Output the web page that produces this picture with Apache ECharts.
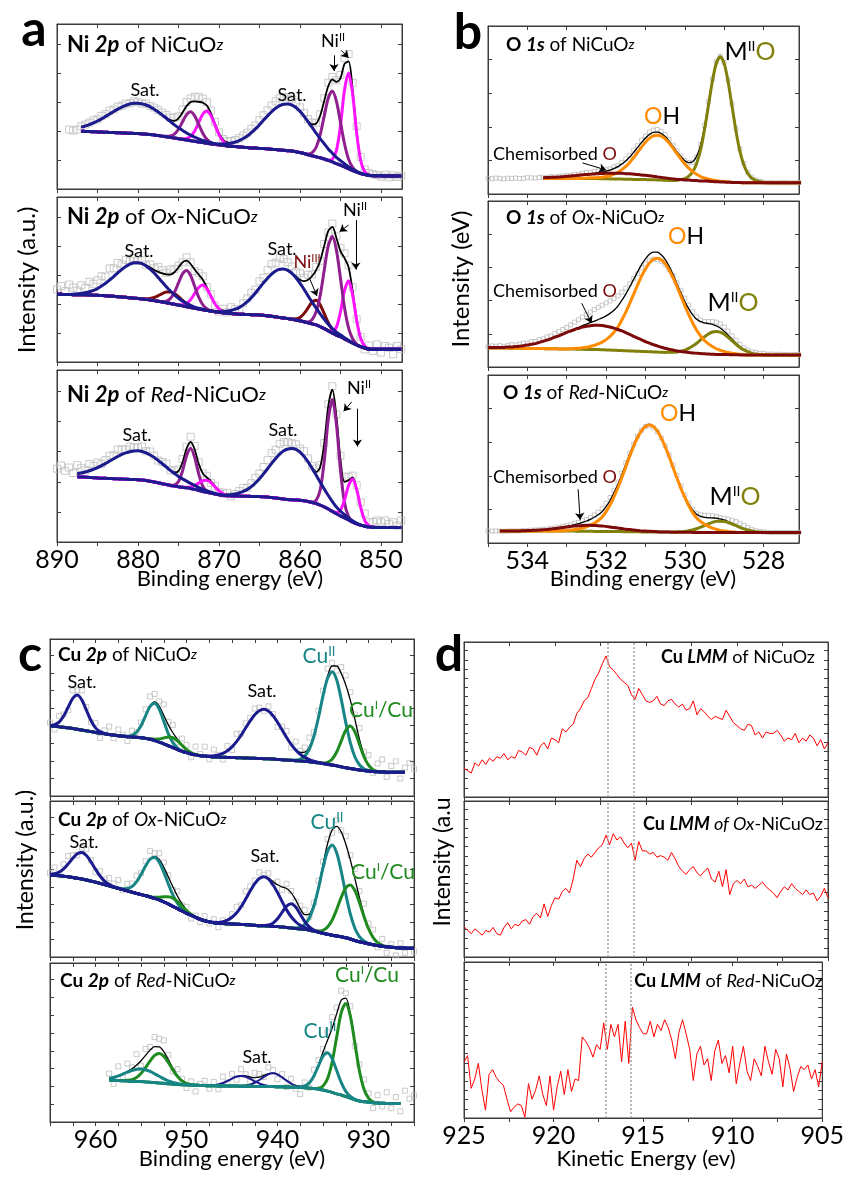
<!DOCTYPE html>
<html><head><meta charset="utf-8">
<script src="https://cdn.jsdelivr.net/npm/echarts/dist/echarts.min.js"></script>
<style>html,body{margin:0;padding:0;background:#fff}#c{width:847px;height:1179px}</style>
</head><body><div id="c"></div>
<script>
// ======================= DATA =======================
// Panel a : Ni 2p, binding-energy grid 890 -> 847.5 eV, step 0.5 eV
const NI_START = 890, NI_STEP = 0.5;
const a1_bg = [35.4,35.3,35.2,35.2,35.1,35.0,35.0,34.9,34.8,34.7,34.6,34.5,34.4,34.3,34.2,34.1,34.0,33.9,33.8,33.7,33.6,
33.4,33.2,33.0,32.7,32.4,32.0,31.7,31.3,30.9,30.5,30.1,29.7,29.3,28.9,28.5,28.1,27.7,27.3,27.0,26.7,
26.4,26.1,25.9,25.7,25.5,25.3,25.1,24.9,24.8,24.6,24.5,24.3,24.1,23.9,23.7,23.5,23.2,23.0,22.6,22.1,
21.5,20.7,20.1,19.5,18.9,18.2,17.3,16.4,15.4,14.5,13.4,12.3,11.2,10.2,9.3,8.7,8.3,8.1,8.0,8.0,
7.9,7.9,7.9,7.9,7.9];
const a1_resid = [null,null,null,0.8,0.3,1.0,0.5,0.9,1.2,1.5,1.0,1.8,1.4,2.0,1.2,1.5,0.8,1.0,0.5,1.2,0.6,
0.2,0.8,0.5,1.0,1.2,1.6,1.8,1.5,2.0,1.2,1.8,2.5,2.2,2.8,3.0,2.5,2.0,1.5,0.8,0.5,
0.3,0.8,1.0,1.2,1.5,1.8,2.0,2.5,2.2,2.8,3.0,3.4,3.8,4.2,4.5,4.4,4.0,3.5,3.0,2.4,
1.8,1.2,1.0,0.5,0.8,1.5,2.0,1.5,1.0,2.0,3.5,4.5,4.0,3.0,2.0,1.5,1.2,0.8,0.5,-0.5,
0.8,-0.8,0.4,-0.6,0.2];
// peaks: [first energy on grid, values going to lower binding energy]
const a1_sat880 = [887, [2.5,3.3,4.2,5.4,6.6,8.0,9.6,11.2,12.8,14.3,15.6,16.8,17.7,18.2,18.4,18.2,17.7,16.8,15.6,14.3,12.8,11.2,9.6,8.0,6.6,5.4,4.2,3.3,2.5,1.9,1.3,1.0,0.7,0.5,0.3,0.2]];
const a1_p873 = [876.5, [0.2,0.8,2.4,5.7,10.6,15.4,17.5,15.4,10.6,5.7,2.4,0.8,0.2]];
const a1_m871 = [874.5, [0.2,0.9,2.6,6.3,11.8,17.2,19.5,17.2,11.8,6.3,2.6,0.9,0.2]];
const a1_sat861 = [870.5, [0.3,0.5,0.8,1.2,1.9,2.7,3.8,5.3,7.0,9.2,11.6,14.3,17.2,20.0,22.7,25.0,26.8,27.9,28.3,27.9,26.8,25.0,22.7,20.0,17.2,14.3,11.6,9.2,7.0,5.3,3.8,2.7,1.9,1.2,0.8,0.5,0.3]];
const a1_p856 = [859, [0.5,1.9,5.8,14.0,26.1,37.9,43,37.9,26.1,14.0,5.8,1.9,0.5]];
const a1_m854 = [856.5, [0.2,1.7,7.8,23.8,46.5,58,46.5,23.8,7.8,1.7,0.2]];

const a2_bg = [41.0,41.0,40.9,40.9,40.8,40.8,40.7,40.7,40.6,40.5,40.4,40.3,40.2,40.0,39.8,39.6,39.4,39.2,39.0,38.7,38.5,
38.2,37.9,37.6,37.2,36.8,36.4,35.9,35.5,35.0,34.5,34.0,33.5,33.0,32.5,32.1,31.7,31.3,30.9,30.5,30.1,
29.8,29.6,29.4,29.2,29.0,28.9,28.8,28.7,28.6,28.5,28.3,28.0,27.7,27.4,27.0,26.7,26.3,25.9,25.5,25.0,
24.4,23.7,23.1,22.5,21.4,20.2,18.9,17.5,16.2,15.3,14.0,12.8,11.5,10.3,9.3,8.5,7.9,7.7,7.7,7.7,
7.7,7.7,7.7,7.7,7.7];
const a2_resid = [3,5,2,6,4,2,5,3,6,4, 5,6,4,7,5,6,3,4,2,3, 1,2,0,2,1,3,2,1,3,2, 1,0,2,1,-1,1,2,0,1,-1,
-2,1,-1,2,0,-2,1,2,3,2, 4,3,5,6,5,7,6,5,4,3, 4,2,3,1,2,0,1,-1,2,1, 2,3,1,2,0,1,-2,2,-1,3, -2,2,1,-3,2,0];
const a2_sat880 = [888, [0.3,0.5,0.8,1.3,2.0,2.9,4.1,5.7,7.5,9.7,12.0,14.4,16.7,18.7,20.3,21.4,21.7,21.4,20.3,18.7,16.7,14.4,12.0,9.7,7.5,5.7,4.1,2.9,2.0,1.3,0.8,0.5,0.3]];
const a2_ox876 = [879.5, [0.1,0.4,0.9,1.9,3.4,5.1,6.5,7,6.5,5.1,3.4,1.9,0.9,0.4,0.1]];
const a2_p874 = [877, [0.2,1.0,3.0,7.2,13.4,19.4,22,19.4,13.4,7.2,3.0,1.0,0.2]];
const a2_m872 = [875, [0.2,0.7,2.0,4.8,9.0,13.1,14.9,13.1,9.0,4.8,2.0,0.7,0.2]];
const a2_sat862 = [870, [0.4,0.7,1.2,1.8,2.8,4.0,5.7,7.8,10.3,13.2,16.4,19.7,22.8,25.6,27.8,29.2,29.7,29.2,27.8,25.6,22.8,19.7,16.4,13.2,10.3,7.8,5.7,4.0,2.8,1.8,1.2,0.7,0.4]];
const a2_ni3 = [861, [0.2,0.7,2.0,4.9,9.1,13.2,15,13.2,9.1,4.9,2.0,0.7,0.2]];
const a2_p856 = [859, [0.6,2.6,7.9,19.0,35.5,51.6,58.5,51.6,35.5,19.0,7.9,2.6,0.6]];
const a2_m854 = [856.5, [0.1,1.1,4.9,15.0,29.2,36.5,29.2,15.0,4.9,1.1,0.1]];

const a3_bg = [38.6,38.5,38.4,38.3,38.1,38.0,37.8,37.7,37.5,37.4,37.2,37.1,37.0,36.9,36.8,36.7,36.6,36.5,36.4,36.3,36.2,
36.0,35.7,35.3,34.9,34.4,33.9,33.4,32.9,32.5,32.1,31.8,31.5,31.1,30.6,30.0,29.4,28.9,28.4,27.9,27.4,
27.1,26.9,26.8,26.7,26.7,26.6,26.6,26.5,26.5,26.4,26.3,26.1,25.9,25.6,25.3,25.0,24.7,24.5,24.4,24.3,
24.0,23.6,23.0,22.3,21.5,20.4,19.2,17.8,16.4,15.2,14.0,12.8,11.6,10.6,9.8,9.2,8.8,8.6,8.5,8.5,
8.5,8.5,8.5,8.5,8.5];
const a3_resid = [4,6,3,5,2,5,3,1,4,2, 3,1,2,3,2,4,3,2,3,2, 2,3,1,2,1,0,1,2,0,1, 1,2,1,3,2,1,0,1,-1,0,
-1,0,1,-1,0,1,2,1,2,3, 3,4,5,6,5,6,5,4,3,3, 2,3,2,1,2,1,0,1,2,1, 2,3,2,1,2,3,4,2,3,4, 3,4,2,3,1,4];
const a3_sat880 = [887.5, [1.7,2.3,3.0,3.9,4.9,6.0,7.3,8.7,10.2,11.6,13.0,14.3,15.3,16.1,16.6,16.8,16.6,16.1,15.3,14.3,13.0,11.6,10.2,8.7,7.3,6.0,4.9,3.9,3.0,2.3,1.7,1.2,0.9,0.6,0.4,0.3,0.2]];
const a3_p873 = [876, [0.1,0.7,3.1,9.5,18.6,23.2,18.6,9.5,3.1,0.7,0.1]];
const a3_m871 = [874.5, [0.1,0.3,0.9,2.3,4.2,6.2,7,6.2,4.2,2.3,0.9,0.3,0.1]];
const a3_sat861 = [869, [0.4,0.7,1.2,1.9,2.8,4.0,5.7,7.8,10.4,13.3,16.5,19.8,23.0,25.8,28.0,29.4,29.9,29.4,28.0,25.8,23.0,19.8,16.5,13.3,10.4,7.8,5.7,4.0,2.8,1.9,1.2,0.7,0.4]];
const a3_p856 = [858.5, [0.3,1.9,8.8,26.7,52.1,65,52.1,26.7,8.8,1.9,0.3]];
const a3_m853 = [856, [0.1,0.7,3.4,10.3,20.0,25,20.0,10.3,3.4,0.7,0.1]];

// Panel b : O 1s, grid 535.0 -> 527.0 eV, step 0.1 eV
const O_START = 535, O_STEP = 0.1;
const b1_bg = [9.3,9.3,9.3,9.3,9.3,9.3,9.3,9.3,9.3,9.3,9.3,9.3,9.3,9.3,9.3,9.3,9.3,9.3,9.3,9.3,9.3,9.3,9.3,9.3,9.3,9.3,
9.3,9.2,9.2,9.1,9.1,9.0,9.0,8.9,8.9,8.8, 8.8,8.7,8.7,8.6,8.6,8.5,8.5,8.4,8.3,8.2,
8.1,8.0,7.9,7.9,7.8,7.8,7.7,7.7,7.6,7.6, 7.5,7.4,7.3,7.2,7.1,7.0,6.9,6.8,6.8,6.7,
6.7,6.7,6.7,6.7,6.7,6.7,6.7,6.7,6.7,6.7,6.7,6.7,6.7,6.7,6.7];
const b1_resid = [0,-0.2,0.2,0,-0.3,0.1,0,0.2,-0.1,0, 0.3,0.1,0,0.2,0.3,0.1,0.4,0.2,0.5,0.3,
0.6,0.4,0.8,0.5,0.9,1.0,0.8,1.2,1.0,0.9, 1.1,0.8,1.0,0.7,0.9,1.2,1.0,1.3,1.1,1.4,
1.2,1.5,1.3,1.6,1.4,1.2,1.0,0.8,0.6,0.4, 0.2,0,-0.3,-0.5,0.2,0.6,1.0,0.5,0.3,0,
0.4,0.9,1.4,1.6,1.3,1.0,0.7,0.5,0.3,0.2, 0.1,0,0.1,-0.1,0,0.1,0,-0.1,0,0.1, 0];
const b1_chem = [534.0, [0.1,0.2,0.2,0.3,0.4,0.5,0.6,0.7,0.8,1.0,1.2,1.4,1.6,1.8,2.1,2.3,2.5,2.7,2.9,3.1,3.2,3.3,3.4,3.4,3.4,3.3,3.2,3.1,2.9,2.7,2.5,2.3,2.1,1.8,1.6,1.4,1.2,1.0,0.8,0.7,0.6,0.5,0.4,0.3,0.2,0.2,0.1]];
const b1_oh = [532.6, [0.1,0.2,0.3,0.4,0.6,0.9,1.3,1.9,2.8,4.0,5.6,7.6,10.0,13.0,16.1,19.3,22.2,24.6,26.1,26.6,26.1,24.6,22.2,19.3,16.1,13.0,10.0,7.6,5.6,4.0,2.8,1.9,1.3,0.9,0.6,0.4,0.3,0.2,0.1]];
const b1_mo = [530.2, [0.3,0.7,1.4,2.8,5.5,10.5,18.6,30.6,45.2,59.7,70.5,74.5,70.5,59.7,45.2,30.6,18.6,10.5,5.5,2.8,1.4,0.7,0.3]];

const b2_bg = [11.5,11.5,11.5,11.4,11.4,11.4,11.3,11.3,11.3,11.2,11.2,11.2,11.1,11.1,11.1,11.0,11.0,11.0,10.9,10.9,10.9,
10.8,10.8,10.7,10.7,10.6,10.6,10.5,10.5,10.4,10.3,10.2,10.1,10.0,9.9,9.8,9.7,9.6,9.5,9.4,9.3,
9.2,9.1,9.0,8.9,8.8,8.7,8.6,8.5,8.4,8.3,8.2,8.1,8.0,7.9,7.8,7.7,7.7,7.6,7.6,7.5,
7.5,7.4,7.4,7.3,7.3,7.3,7.2,7.2,7.2,7.2,7.2,7.2,7.2,7.2,7.2,7.2,7.2,7.2,7.2,7.2];
const b2_resid = [0.5,1.0,0.8,1.2,0.6,1.0,1.4,0.9,1.2,1.5, 1.1,1.6,1.3,1.8,1.5,2.0,1.7,2.2,2.5,2.8,
3.0,3.5,4.0,4.6,5.2,5.8,6.4,7.0,7.4,7.6, 7.8,7.5,7.0,6.2,5.0,3.5,2.0,0.5,-1.0,-2.0,
-3.0,-3.8,-4.2,-4.5,-4.0,-3.2,-2.0,-0.8,0.5,1.4, 2.0,2.3,2.1,1.6,1.0,0.8,1.2,1.8,2.2,2.5,
2.6,2.4,2.1,1.8,1.4,1.2,1.0,0.8,0.9,0.7, 0.8,0.5,0.6,0.4,0.5,0.3,0.4,0.2,0.3,0.2, 0.3];
const b2_chem = [535.0, [0.1,0.2,0.2,0.3,0.4,0.6,0.7,1.0,1.2,1.6,2.0,2.5,3.0,3.7,4.4,5.2,6.0,7.0,7.9,8.9,9.9,10.9,11.8,12.6,13.3,13.9,14.3,14.6,14.7,14.6,14.3,13.9,13.3,12.6,11.8,10.9,9.9,8.9,7.9,7.0,6.0,5.2,4.4,3.7,3.0,2.5,2.0,1.6,1.2,1.0,0.7,0.6,0.4,0.3,0.2,0.2,0.1]];
const b2_oh = [532.9, [0.2,0.4,0.6,0.9,1.3,1.8,2.5,3.4,4.6,6.2,8.2,10.8,14.1,18.4,23.2,28.6,34.3,39.9,45.3,49.8,53.5,55.7,56.5,55.7,53.5,49.8,45.3,39.9,34.3,28.6,23.2,18.4,14.1,10.8,8.2,6.2,4.6,3.4,2.5,1.8,1.3,0.9,0.6,0.4,0.2]];
const b2_mo = [530.4, [0.2,0.3,0.6,1.1,1.9,3.0,4.5,6.3,8.4,10.4,12.2,13.4,13.8,13.4,12.2,10.4,8.4,6.3,4.5,3.0,1.9,1.1,0.6,0.3,0.2]];

const b3_bg = [7.1,7.1,7.1,7.1,7.1,7.1,7.1,7.1,7.1,7.1,7.1,7.1,7.1,7.1,7.1,7.1,7.1,7.1,7.1,7.1,7.1,
7.1,7.1,7.0,7.0,7.0,7.0,6.9,6.9,6.9,6.9,6.8,6.8,6.8,6.8,6.7,6.7,6.7,6.7,6.6,6.6,
6.6,6.6,6.5,6.5,6.5,6.5,6.4,6.4,6.4,6.4,6.4,6.3,6.3,6.3,6.3,6.3,6.3,6.3,6.2,6.2,
6.2,6.2,6.2,6.2,6.2,6.2,6.2,6.2,6.2,6.2,6.2,6.2,6.2,6.2,6.2,6.2,6.2,6.2,6.2,6.2];
const b3_resid = [0,0,0.1,0,-0.1,0,0.1,0,0,0.1, 0,0.2,0.1,0.2,0.3,0.2,0.4,0.3,0.5,0.4,
0.6,0.5,0.8,0.7,1.0,0.9,1.2,1.4,1.5,1.8, 2.0,1.8,1.5,1.2,1.0,0.8,0.5,0.2,0,-0.3,
-0.5,-0.8,-1.0,-0.6,-0.2,0.3,0.8,1.2,1.5,1.3, 1.0,0.8,0.5,0.6,0.9,1.2,1.5,1.3,1.0,0.8,
1.0,1.4,1.8,2.2,2.4,2.1,1.6,1.0,0.6,0.3, 0.2,0.1,0,0.1,0,0,0.1,0,0,0.1, 0];
const b3_chem = [534.3, [0.1,0.1,0.2,0.3,0.4,0.5,0.6,0.8,1.0,1.3,1.5,1.8,2.1,2.4,2.7,3.0,3.2,3.4,3.5,3.5,3.5,3.4,3.2,3.0,2.7,2.4,2.1,1.8,1.5,1.3,1.0,0.8,0.6,0.5,0.4,0.3,0.2,0.1,0.1]];
const b3_oh = [533.1, [0.2,0.4,0.6,0.9,1.3,1.9,2.6,3.6,4.9,6.5,8.6,11.8,15.8,20.7,26.1,32.2,38.6,45.0,50.9,56.1,60.2,62.7,63.6,62.7,60.2,56.1,50.9,45.0,38.6,32.2,26.1,20.7,15.8,11.8,8.6,6.5,4.9,3.6,2.6,1.9,1.3,0.9,0.6,0.4,0.2]];
const b3_mo = [530.3, [0.1,0.2,0.3,0.5,0.9,1.5,2.2,3.1,4.1,5.1,6.0,6.6,6.8,6.6,6.0,5.1,4.1,3.1,2.2,1.5,0.9,0.5,0.3,0.2,0.1]];

// Panel c : Cu 2p, grid 965 -> 925 eV, step 0.5 eV
const CU_START = 965, CU_STEP = 0.5;
const c1_bg = [44.6,44.4,44.1,43.8,43.4,43.0,42.5,42.0,41.5,41.0,40.5,40.0,39.6,39.2,38.8,38.4,38.1,37.8,37.6,37.4,37.1,
36.7,36.1,35.3,34.3,33.2,32.0,30.8,29.6,28.5,27.6,26.8,26.2,25.7,25.4,25.1,24.9,24.8,24.7,24.6,24.5,
24.4,24.3,24.2,24.1,24.0,23.9,23.8,23.7,23.5,23.3,23.1,22.9,22.7,22.5,22.3,22.1,21.8,21.5,21.1,20.7,
20.2,19.7,19.2,18.6,18.0,17.5,17.0,16.6,16.2,15.9,15.6,15.4,15.3,15.2,15.1,15.1,15.1,15.1,15.1,15.1];
const c1_resid = [2,-3,4,1,-2,5,3,6,2,-1, 3,-4,2,5,-2,4,1,-3,3,0, 2,4,6,5,3,7,2,5,-2,4, 3,-3,5,1,6,-2,4,0,-4,3,
-2,5,1,3,2,4,2,-1,3,1, -3,2,4,-2,5,1,3,6,2,4, 3,5,2,-3,4,6,5,3,7,2, 6,-2,5,8,-3,4,7,-4,3,6, 2];
const c1_sat962 = [965, [0.2,1.0,2.9,7.1,13.2,19.2,21.8,19.2,13.2,7.1,2.9,1.0,0.2]];
const c1_t953 = [956.5, [0.3,1.0,3.2,7.7,14.4,21.0,23.8,21.0,14.4,7.7,3.2,1.0,0.3]];
const c1_g951 = [954.5, [0.1,0.3,0.9,2.0,3.8,5.6,6.3,5.6,3.8,2.0,0.9,0.3,0.1]];
const c1_sat941 = [947.5, [0.3,0.7,1.4,2.5,4.2,6.8,10.2,14.4,19.1,23.7,27.7,30.4,31.4,30.4,27.7,23.7,19.1,14.4,10.2,6.8,4.2,2.5,1.4,0.7,0.3]];
const c1_t934 = [938, [0.4,1.2,3.3,8.0,16.5,28.9,43.1,54.8,59.4,54.8,43.1,28.9,16.5,8.0,3.3,1.2,0.4]];
const c1_g932 = [935, [0.3,1.2,3.7,8.8,16.4,23.9,27.1,23.9,16.4,8.8,3.7,1.2,0.3]];

const c2_bg = [52.6,52.4,52.1,51.8,51.4,51.0,50.5,50.0,49.4,48.7,48.0,47.2,46.4,45.6,44.8,44.0,43.2,42.4,41.6,40.8,40.0,
39.3,38.5,37.6,36.6,35.4,34.0,32.5,31.0,29.5,28.0,26.7,25.4,24.2,23.2,22.5,22.0,21.6,21.4,21.3,21.2,
21.0,20.9,20.7,20.5,20.3,20.1,20.0,19.8,19.6,19.5,19.2,18.9,18.6,18.3,18.0,17.7,17.2,16.6,15.9,15.2,
14.6,14.0,13.5,13.0,12.3,11.5,10.6,9.8,9.1,8.5,7.9,7.3,6.9,6.5,6.2,6.0,5.8,5.7,5.6,5.6];
const c2_resid = [1,4,-2,3,5,2,-1,3,4,1, -2,3,1,4,2,5,-1,3,2,4, 1,3,5,2,4,3,1,-2,3,-1, 2,-3,1,-2,3,-1,2,-3,1,-2,
2,4,1,5,3,2,4,1,3,-1, 2,-2,3,1,-1,2,3,-2,1,4, 2,3,-2,4,1,5,3,6,4,7, 3,5,-3,4,-4,2,-5,3,-3,-6, -2];
const c2_sat961 = [965, [0.3,1.0,2.3,4.7,8.3,12.3,15.7,17,15.7,12.3,8.3,4.7,2.3,1.0,0.3,0.1]];
const c2_t953 = [957.5, [0.2,0.5,1.5,3.5,7.3,12.8,19.0,24.2,26.2,24.2,19.0,12.8,7.3,3.5,1.5,0.5,0.2]];
const c2_g951 = [954.5, [0.1,0.2,0.7,1.7,3.2,4.6,5.2,4.6,3.2,1.7,0.7,0.2,0.1]];
const c2_sat941 = [947, [0.2,0.5,1.2,2.3,4.3,7.2,11.3,16.4,21.8,26.7,30.2,31.5,30.2,26.7,21.8,16.4,11.3,7.2,4.3,2.3,1.2,0.5,0.2]];
const c2_sat938 = [941.5, [0.2,0.7,2.1,5.0,9.4,13.7,15.5,13.7,9.4,5.0,2.1,0.7,0.2]];
const c2_t934 = [938, [0.3,1.2,3.2,7.8,16.1,28.1,42.0,53.3,57.8,53.3,42.0,28.1,16.1,7.8,3.2,1.2,0.3]];
const c2_g932 = [936, [0.2,0.7,1.9,4.7,9.6,16.9,25.2,32.0,34.7,32.0,25.2,16.9,9.6,4.7,1.9,0.7,0.2]];

const c3_bg = [26.8,26.8,26.8,26.7,26.7,26.7,26.6,26.6,26.6,26.5,26.5,26.5,26.4,26.4,
26.2,26.1,25.9,25.8,25.6,25.5,25.4,
25.2,25.0,24.8,24.6,24.3,24.0,23.8,23.6,23.4,23.3,23.2,23.1,23.0,22.9,22.8,22.8,22.7,22.7,22.6,22.6,
22.6,22.5,22.5,22.5,22.4,22.4,22.4,22.3,22.3,22.2,22.1,22.0,21.9,21.8,21.7,21.6,21.3,21.0,20.6,20.1,
19.4,18.6,17.7,17.0,16.0,15.0,14.0,13.2,12.8,12.4,12.1,11.9,11.8,11.7,11.7,11.7,11.7,11.7,11.7,11.7];
const c3_resid = [null,null,null,null,null,null,null,null,null,null, null,null,null,3,-4,6,-2,5,1,7,
-3,4,2,6,5,7,3,-2,4,1, -3,2,-4,1,3,-2,2,-3,4,-1, 3,-2,4,1,-3,3,2,-1,4,2, -3,2,-4,3,-2,-5,2,-3,4,3,
2,5,7,4,6,3,5,-2,4,6, 3,-4,5,-2,7,-3,4,-5,8,3, 5];
const c3_t955 = [960, [0.1,0.3,0.6,1.1,1.8,2.9,4.2,5.5,6.8,7.7,8,7.7,6.8,5.5,4.2,2.9,1.8,1.1,0.6,0.3,0.1]];
const c3_g953 = [957, [0.1,0.4,1.0,2.5,5.1,9.0,13.4,17.1,18.5,17.1,13.4,9.0,5.1,2.5,1.0,0.4,0.1]];
const c3_s944 = [947.5, [0.1,0.4,0.9,1.8,3.2,4.7,6.0,6.5,6.0,4.7,3.2,1.8,0.9,0.4,0.1]];
const c3_s940 = [944, [0.2,0.5,1.1,2.3,4.0,6.0,7.7,8.3,7.7,6.0,4.0,2.3,1.1,0.5,0.2]];
const c3_t934 = [937.5, [0.3,1.1,3.3,7.9,14.7,21.3,24.2,21.3,14.7,7.9,3.3,1.1,0.3]];
const c3_g932 = [935.5, [0.6,2.6,7.9,19.0,35.6,51.7,58.6,51.7,35.6,19.0,7.9,2.6,0.6]];

// Panel d : Cu LMM, kinetic-energy grid 925 -> 905 eV, step 0.2 eV
const LMM_START = 925, LMM_STEP = 0.2;
const d1_int = [18.5,17,15.5,22,20,24,21,25,23,26, 25,28,24,26,25,30,29,27,32,31, 27,33,35,31,38,37,35,44,42,45,
47,54,57,62,64,70,76,80,86,91, 84,82,79,76,74,72,66,63,70,66, 62,61,62,65,60,59,62,63,60,58,
60,56,57,62,53,57,55,52,50,52, 51,50,56,52,48,46,44,43,47,46, 40,42,38,42,41,41,43,40,36,38,
37,41,35,38,36,40,38,33,37,31, 35];
const d2_int = [19.5,17,15,18,16,14,17,16,19,15, 14,19,22,18,21,20,23,24,21,26, 28,25,34,26,33,38,37,42,44,41,
50,62,58,63,66,64,67,70,72,78, 72,79,75,77,73,70,73,62,74,68, 68,66,67,64,65,64,62,67,63,58,
55,53,56,58,54,52,55,57,50,48, 55,45,56,40,47,49,47,50,45,46, 44,46,48,45,43,41,38,42,45,43,
47,44,42,40,43,40,41,36,39,44, 38];
const d3_int = [36,40,19,25,35,18,5,28,31,26, 23,21,12,4,7,9,8,0.5,22,12, 18,27,15,8,27,5,20,30,15,31,
17,25,24,52,49,45,39,47,44,61, 44,60,52,60,36,62,35,71,63,58, 54,54,62,52,60,56,63,58,50,38,
55,63,54,44,24,41,46,34,38,24, 43,50,35,40,29,46,22,35,46,30, 24,38,33,27,46,36,28,44,38,20,
41,32,17,26,33,31,34,25,31,20, 36];
const LMM_MARKS = [917.1, 915.7];

// Axis tick values
const A_TICKS = [850,855,860,865,870,875,880,885,890], A_LABELS = [850,860,870,880,890];
const B_TICKS = [528,529,530,531,532,533,534,535], B_LABELS = [528,530,532,534];
const C_TICKS = [925,927.5,930,932.5,935,937.5,940,942.5,945,947.5,950,952.5,955,957.5,960,962.5,965], C_LABELS = [930,940,950,960];
const D_TICKS = [905,907.5,910,912.5,915,917.5,920,922.5,925], D_LABELS = [905,910,915,920,925];

// ======================= STYLE / LAYOUT =======================
const FONT = "Lato, 'Noto Sans', 'DejaVu Sans', sans-serif";
const NAVY='#1b1b8e', PURPLE='#8e1f8e', MAGENTA='#ff14ff', MAROON='#7d0a0a', ORANGE='#ff8c00', OLIVE='#80800a', TEAL='#178585', GREEN='#1f8a1f', GREY='#bdbdbd';
const AX = {
  a:{min:847.4,max:890,ticks:A_TICKS,labels:A_LABELS,yi:17.5},
  b:{min:527.1,max:535,ticks:B_TICKS,labels:B_LABELS,yi:20},
  c:{min:925,max:965,ticks:C_TICKS,labels:C_LABELS,yi:11.2},
  d:{min:905,max:925,ticks:D_TICKS,labels:D_LABELS,yi:5.9}
};
const cp = (pk,color,w)=>({pk,color,w});
const SUBS = [
 {p:'a',box:[57,24,345,165],start:NI_START,step:NI_STEP,fitFrom:887,fitTo:847.5,bg:a1_bg,resid:a1_resid,sym:7,envW:1.8,
  comps:[cp(a1_m871,MAGENTA,3),cp(a1_m854,MAGENTA,3),cp(a1_p873,PURPLE,3),cp(a1_p856,PURPLE,3),cp(a1_sat880,NAVY,3),cp(a1_sat861,NAVY,3)],
  arrows:[[[855.8,81],[855.8,71.5]],[[854.9,84],[854.0,79.5]]]},
 {p:'a',box:[57,197,345,165],start:NI_START,step:NI_STEP,fitFrom:890,fitTo:847.5,bg:a2_bg,resid:a2_resid,sym:7,envW:1.8,
  comps:[cp(a2_ox876,MAROON,3),cp(a2_ni3,MAROON,3),cp(a2_m872,MAGENTA,3),cp(a2_m854,MAGENTA,3),cp(a2_p874,PURPLE,3),cp(a2_p856,PURPLE,3),cp(a2_sat880,NAVY,3),cp(a2_sat862,NAVY,3)],
  arrows:[[[858.8,50.5],[857.9,40]],[[854.0,83],[855.1,79]],[[853.1,86],[853.1,56]]]},
 {p:'a',box:[57,370,345,172],start:NI_START,step:NI_STEP,fitFrom:887.5,fitTo:847.5,bg:a3_bg,resid:a3_resid,sym:7,envW:1.8,labels:true,
  comps:[cp(a3_p873,PURPLE,3),cp(a3_p856,PURPLE,3),cp(a3_m871,MAGENTA,3),cp(a3_m853,MAGENTA,3),cp(a3_sat880,NAVY,3),cp(a3_sat861,NAVY,3)],
  arrows:[[[853.6,81.5],[854.6,76]],[[852.9,77.5],[852.9,55.5]]]},
 {p:'b',box:[488,26,311,168],start:O_START,step:O_STEP,fitFrom:533.6,fitTo:527,bg:b1_bg,resid:b1_resid,sym:4,envW:1.3,
  comps:[cp(b1_mo,OLIVE,3),cp(b1_oh,ORANGE,3),cp(b1_chem,MAROON,3)],
  arrows:[[[532.6,18.5],[532.0,14.3]]]},
 {p:'b',box:[488,201,311,166],start:O_START,step:O_STEP,fitFrom:535,fitTo:527,bg:b2_bg,resid:b2_resid,sym:4,envW:1.3,
  comps:[cp(b2_mo,OLIVE,3),cp(b2_oh,ORANGE,3),cp(b2_chem,MAROON,3)],
  arrows:[[[532.62,38.4],[532.37,26.5]]]},
 {p:'b',box:[488,375,311,168],start:O_START,step:O_STEP,fitFrom:534.7,fitTo:527,bg:b3_bg,resid:b3_resid,sym:4,envW:1.3,labels:true,
  comps:[cp(b3_mo,OLIVE,3),cp(b3_oh,ORANGE,3),cp(b3_chem,MAROON,3)],
  arrows:[[[532.71,32],[532.66,13.8]]]},
 {p:'c',box:[50,639,364,157],start:CU_START,step:CU_STEP,fitFrom:965,fitTo:926,bg:c1_bg,resid:c1_resid,sym:5,envW:1.3,
  comps:[cp(c1_t953,TEAL,3),cp(c1_t934,TEAL,3),cp(c1_g951,GREEN,3),cp(c1_g932,GREEN,3),cp(c1_sat962,NAVY,3),cp(c1_sat941,NAVY,3)]},
 {p:'c',box:[50,801,364,156],start:CU_START,step:CU_STEP,fitFrom:965,fitTo:925,bg:c2_bg,resid:c2_resid,sym:5,envW:1.3,
  comps:[cp(c2_t953,TEAL,3),cp(c2_t934,TEAL,3),cp(c2_g951,GREEN,3),cp(c2_g932,GREEN,3),cp(c2_sat961,NAVY,3),cp(c2_sat941,NAVY,3),cp(c2_sat938,NAVY,3)]},
 {p:'c',box:[50,963,364,159],start:CU_START,step:CU_STEP,fitFrom:958.5,fitTo:926.5,bg:c3_bg,resid:c3_resid,sym:5,envW:1.3,labels:true,
  comps:[cp(c3_s944,NAVY,2),cp(c3_s940,NAVY,2),cp(c3_g953,GREEN,3),cp(c3_g932,GREEN,3),cp(c3_t955,TEAL,3),cp(c3_t934,TEAL,3)]},
 {p:'d',box:[464,642,364,155],start:LMM_START,step:LMM_STEP,line:d1_int},
 {p:'d',box:[464,801,364,156],start:LMM_START,step:LMM_STEP,line:d2_int},
 {p:'d',box:[464,962,364,156],start:LMM_START,step:LMM_STEP,line:d3_int,labels:true}
];

// ======================= BUILD =======================
function grid1d(start, step, n){ const a=[]; for(let i=0;i<n;i++) a.push(Math.round((start-i*step)*1000)/1000); return a; }
const option = {animation:false, backgroundColor:'#ffffff', grid:[], xAxis:[], yAxis:[], series:[], graphic:[]};
const AXC = '#3c3c3c';
SUBS.forEach((s, gi) => {
  const ax = AX[s.p];
  option.grid.push({left:s.box[0], top:s.box[1], width:s.box[2], height:s.box[3], show:true, borderColor:AXC, borderWidth:1});
  option.xAxis.push({type:'value', gridIndex:gi, min:ax.min, max:ax.max, inverse:true, position:'bottom',
    axisLine:{show:true,onZero:false,lineStyle:{color:AXC,width:1}},
    axisTick:{show:true,inside:false,length:4,customValues:ax.ticks,lineStyle:{color:AXC}},
    axisLabel:{show:!!s.labels,customValues:ax.labels,margin:5,fontFamily:FONT,fontSize:25,color:'#000'},
    splitLine:{show:false}});
  option.xAxis.push({type:'value', gridIndex:gi, min:ax.min, max:ax.max, inverse:true, position:'top',
    axisLine:{show:true,onZero:false,lineStyle:{color:AXC,width:1}},
    axisTick:{show:true,inside:true,length:4,customValues:ax.ticks,lineStyle:{color:AXC}},
    axisLabel:{show:false}, splitLine:{show:false}});
  ['left','right'].forEach(pos => option.yAxis.push({type:'value', gridIndex:gi, min:0, max:100, interval:ax.yi, position:pos,
    axisLine:{show:true,onZero:false,lineStyle:{color:AXC,width:1}},
    axisTick:{show:true,inside:true,length:4,lineStyle:{color:AXC}},
    axisLabel:{show:false}, splitLine:{show:false}}));
  const xi = 2*gi, yi = 2*gi;
  if (s.line) {
    const X = grid1d(s.start, s.step, s.line.length);
    option.series.push({type:'line', xAxisIndex:xi, yAxisIndex:yi, data:X.map((x,i)=>[x,s.line[i]]), showSymbol:false, silent:true,
      lineStyle:{color:'#ff0000',width:1}, z:3,
      markLine:{silent:true, symbol:['none','none'], label:{show:false}, lineStyle:{color:'#a0a0a0',type:[2,2],width:1.5},
        data:LMM_MARKS.map(v=>({xAxis:v}))}});
    return;
  }
  const X = grid1d(s.start, s.step, s.bg.length);
  const peakAt = (pk,i) => { const j = i - Math.round((s.start - pk[0])/s.step); return (j>=0 && j<pk[1].length) ? pk[1][j] : 0; };
  const inFit = x => x <= s.fitFrom + 1e-6 && x >= s.fitTo - 1e-6;
  const env = X.map((x,i) => s.comps.reduce((acc,c)=>acc+peakAt(c.pk,i), s.bg[i]));
  const scat = []; X.forEach((x,i)=>{ if (s.resid[i] !== null) scat.push([x, env[i] + s.resid[i]]); });
  option.series.push({type:'scatter', xAxisIndex:xi, yAxisIndex:yi, data:scat, symbol:'rect', symbolSize:s.sym, silent:true, z:1,
    itemStyle:{color:'rgba(255,255,255,0)', borderColor:GREY, borderWidth:1}});
  const envD = []; X.forEach((x,i)=>{ if (inFit(x)) envD.push([x, env[i]]); });
  const envS = {type:'line', xAxisIndex:xi, yAxisIndex:yi, data:envD, showSymbol:false, smooth:0.3, silent:true, z:2,
    lineStyle:{color:'#000', width:s.envW}};
  if (s.arrows) envS.markLine = {silent:true, symbol:['none','arrow'], symbolSize:7, label:{show:false}, lineStyle:{color:'#000',width:1,type:'solid'},
    data:s.arrows.map(a=>[{coord:a[0]},{coord:a[1]}])};
  option.series.push(envS);
  s.comps.forEach(c => {
    const d = []; X.forEach((x,i)=>{ if (inFit(x)) d.push([x, s.bg[i] + peakAt(c.pk,i)]); });
    option.series.push({type:'line', xAxisIndex:xi, yAxisIndex:yi, data:d, showSymbol:false, smooth:0.3, silent:true, z:3,
      lineStyle:{color:c.color, width:c.w}});
  });
});

// ======================= TEXT =======================
const G = option.graphic;
const tok = (size, extra) => Object.assign({fontFamily:FONT, fontSize:size, fill:'#000', color:'#000'}, extra||{});
function T(x, y, text, rich, o) {
  o = o || {};
  G.push({type:'text', x:x, y:y, z:100, silent:true, rotation:o.rot||0,
    style:{text:text, rich:rich, fontFamily:FONT, fontSize:o.size||18, fontWeight:o.weight||'normal', fill:o.color||'#000',
      align:o.align||'center', verticalAlign:'middle', textAlign:o.align||'center', textVerticalAlign:'middle'}});
}
const titleRich = sz => ({b:tok(sz,{fontWeight:'bold'}), bi:tok(sz,{fontWeight:'bold',fontStyle:'italic'}), n:tok(sz), i:tok(sz,{fontStyle:'italic'}),
  z:tok(Math.round(sz*0.72),{fontStyle:'italic',verticalAlign:'bottom',padding:[0,0,3,0]})});
// panel letters
T(34,30,'a',null,{size:50,weight:'bold'}); T(468,33,'b',null,{size:50,weight:'bold'});
T(30,655,'c',null,{size:50,weight:'bold'}); T(449,655,'d',null,{size:50,weight:'bold'});
// subplot titles
const TA = titleRich(22), TB = titleRich(19), TC = titleRich(19), TD = titleRich(18);
T(67,45,'{b|Ni }{bi|2p}{n| of NiCuO}{z|z}',TA,{align:'left'});
T(67,217,'{b|Ni }{bi|2p}{n| of }{i|Ox}{n|-NiCuO}{z|z}',TA,{align:'left'});
T(67,395,'{b|Ni }{bi|2p}{n| of }{i|Red}{n|-NiCuO}{z|z}',TA,{align:'left'});
T(506,45,'{b|O }{bi|1s}{n| of NiCuO}{z|z}',TB,{align:'left'});
T(506,218,'{b|O }{bi|1s}{n| of }{i|Ox}{n|-NiCuO}{z|z}',TB,{align:'left'});
T(503,393,'{b|O }{bi|1s}{n| of }{i|Red}{n|-NiCuO}{z|z}',TB,{align:'left'});
T(58,655,'{b|Cu }{bi|2p}{n| of NiCuO}{z|z}',TC,{align:'left'});
T(58,820,'{b|Cu }{bi|2p}{n| of }{i|Ox}{n|-NiCuO}{z|z}',TC,{align:'left'});
T(60,981,'{b|Cu }{bi|2p}{n| of }{i|Red}{n|-NiCuO}{z|z}',TC,{align:'left'});
T(815,657,'{b|Cu }{bi|LMM}{n| of NiCuOz}',TD,{align:'right'});
T(823,824,'{b|Cu }{bi|LMM}{i| of Ox}{n|-NiCuOz}',TD,{align:'right'});
T(823,981,'{b|Cu }{bi|LMM}{n| of }{i|Red}{n|-NiCuOz}',TD,{align:'right'});
// peak annotations
const supR = (main, col, sz) => ({m:tok(sz,{fill:col,color:col}), s:tok(Math.round(sz*0.6),{fill:col,color:col,verticalAlign:'top'})});
const NI2 = supR('Ni','#000',18), NI3 = supR('Ni',MAROON,18);
[[145,90],[292,95],[139,251],[282,249],[137,435],[283,430]].forEach(p=>T(p[0],p[1],'Sat.',null,{size:18}));
T(333,41,'{m|Ni}{s|II}',NI2); T(355,210,'{m|Ni}{s|II}',NI2); T(359,388,'{m|Ni}{s|II}',NI2);
T(307,262,'{m|Ni}{s|III}',NI3);
const OHR = {o:tok(23,{fill:ORANGE,color:ORANGE}), k:tok(23)};
const MOR = {k:tok(25), s:tok(14,{verticalAlign:'top'}), o:tok(25,{fill:OLIVE,color:OLIVE})};
const CHR = {k:tok(18), r:tok(18,{fill:MAROON,color:MAROON})};
T(662,117,'{o|O}{k|H}',OHR); T(686,237,'{o|O}{k|H}',OHR); T(678,414,'{o|O}{k|H}',OHR);
T(750,52,'{k|M}{s|II}{o|O}',MOR); T(733,303,'{k|M}{s|II}{o|O}',MOR); T(735,497,'{k|M}{s|II}{o|O}',MOR);
T(555,154,'{k|Chemisorbed }{r|O}',CHR); T(555,291,'{k|Chemisorbed }{r|O}',CHR); T(555,477,'{k|Chemisorbed }{r|O}',CHR);
[[82,682],[262,691],[84,842],[265,856],[257,1057]].forEach(p=>T(p[0],p[1],'Sat.',null,{size:18}));
const CU2 = supR('Cu',TEAL,21);
const CU1 = {m:tok(21,{fill:GREEN,color:GREEN}), s:tok(12,{fill:GREEN,color:GREEN,verticalAlign:'top'})};
T(319,656,'{m|Cu}{s|II}',CU2); T(327,822,'{m|Cu}{s|II}',CU2); T(320,1031,'{m|Cu}{s|II}',CU2);
T(381,710,'{m|Cu}{s|I}{m|/Cu}',CU1); T(383,872,'{m|Cu}{s|I}{m|/Cu}',CU1); T(367,975,'{m|Cu}{s|I}{m|/Cu}',CU1);
// axis titles
T(230,579,'Binding energy (eV)',null,{size:22}); T(643,579,'Binding energy (eV)',null,{size:22});
T(232,1159,'Binding energy (eV)',null,{size:22}); T(646,1159,'Kinetic Energy (ev)',null,{size:22});
T(27,280,'Intensity (a.u.)',null,{size:24,rot:Math.PI/2}); T(461,279,'Intensity (eV)',null,{size:24,rot:Math.PI/2});
T(26,860,'Intensity (a.u.)',null,{size:23,rot:Math.PI/2}); T(443,862,'Intensity (a.u',null,{size:23,rot:Math.PI/2});

const chart = echarts.init(document.getElementById('c'), null, {renderer:'canvas'});
chart.setOption(option);
</script></body></html>
